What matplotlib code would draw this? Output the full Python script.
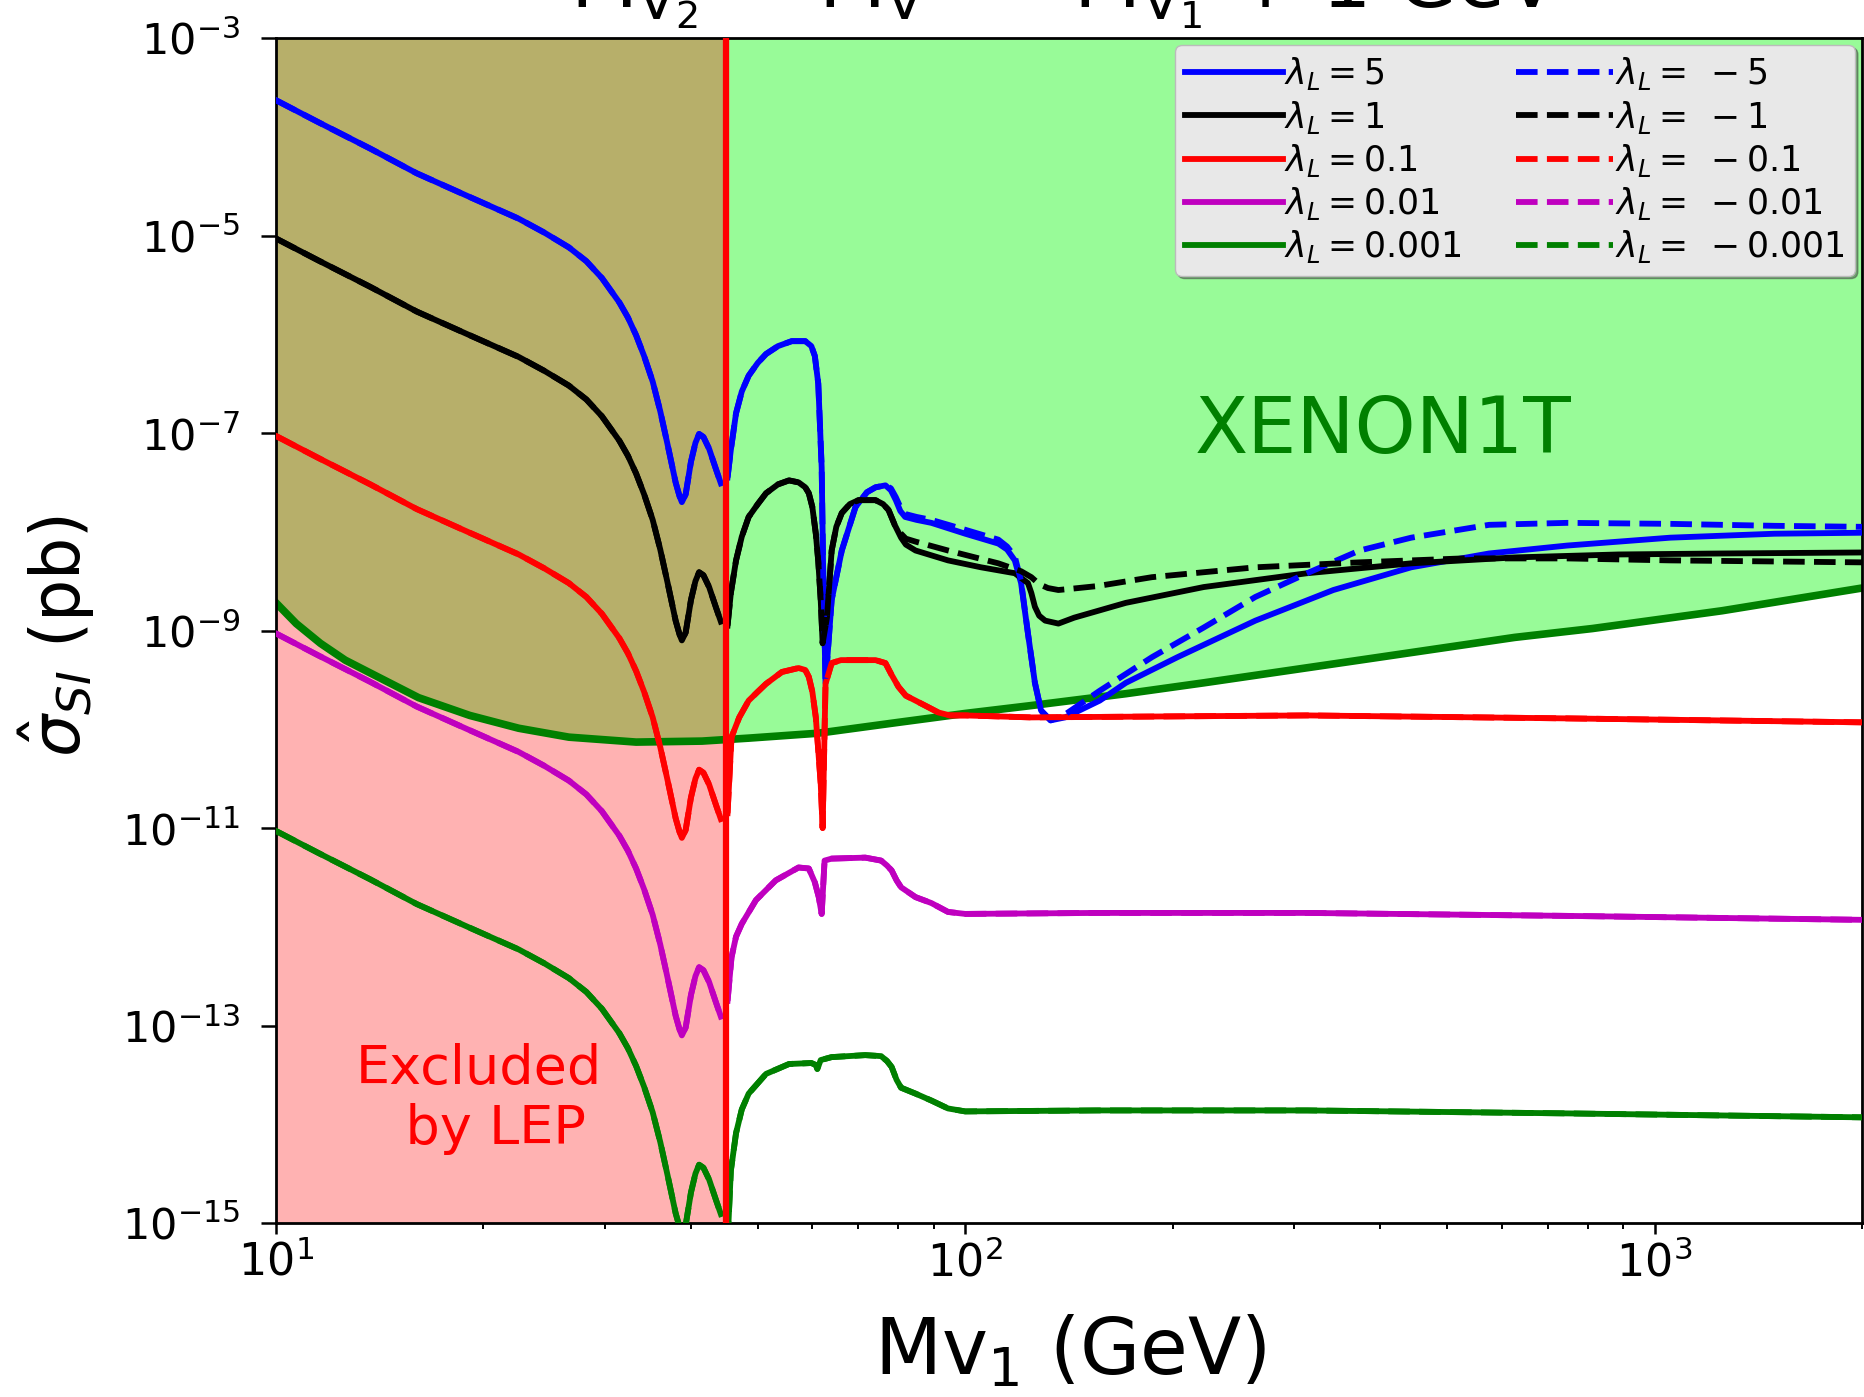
import numpy as np
import matplotlib
matplotlib.use("Agg")
import matplotlib.pyplot as plt
from matplotlib.ticker import NullLocator

# ---------------- data (log10 of sigma in pb, masses in GeV) ----------------
lep_limit = 45.0

mass_left = [10, 11.5, 13.7, 16.0, 19.1, 22.5, 24.5, 26.6, 28.2, 29.7,
             31.5, 32.4, 33.3, 34.2, 35.2, 36.1, 37.0, 38.0, 38.5, 38.8,
             39.3, 40.0, 40.6, 41.1, 41.7, 42.5, 43.5, 44.2]
logsig_left_p5 = [-3.63, -3.85, -4.12, -4.37, -4.61, -4.83, -4.97, -5.12, -5.26, -5.43,
                  -5.68, -5.83, -6.01, -6.22, -6.48, -6.78, -7.12, -7.50, -7.64, -7.70,
                  -7.62, -7.29, -7.10, -7.01, -7.04, -7.16, -7.37, -7.51]
logsig_left_p1 = [-5.03, -5.25, -5.52, -5.77, -6.01, -6.23, -6.37, -6.52, -6.66, -6.83,
                  -7.08, -7.23, -7.41, -7.62, -7.88, -8.18, -8.52, -8.90, -9.04, -9.10,
                  -9.02, -8.69, -8.50, -8.41, -8.44, -8.56, -8.77, -8.91]
logsig_left_p01 = [-7.03, -7.25, -7.52, -7.77, -8.01, -8.23, -8.37, -8.52, -8.66, -8.83,
                   -9.08, -9.23, -9.41, -9.62, -9.88, -10.18, -10.52, -10.90, -11.04, -11.10,
                   -11.02, -10.69, -10.50, -10.41, -10.44, -10.56, -10.77, -10.91]
logsig_left_p001 = [-9.03, -9.25, -9.52, -9.77, -10.01, -10.23, -10.37, -10.52, -10.66, -10.83,
                    -11.08, -11.23, -11.41, -11.62, -11.88, -12.18, -12.52, -12.90, -13.04, -13.10,
                    -13.02, -12.69, -12.50, -12.41, -12.44, -12.56, -12.77, -12.91]
logsig_left_p0001 = [-11.03, -11.25, -11.52, -11.77, -12.01, -12.23, -12.37, -12.52, -12.66, -12.83,
                     -13.08, -13.23, -13.41, -13.62, -13.88, -14.18, -14.52, -14.90, -15.04, -15.10,
                     -15.02, -14.69, -14.50, -14.41, -14.44, -14.56, -14.77, -14.91]

# lambda = 5 (solid); the lambda = -5 curve shares the first 22 points
mass_right_p5 = [45.2, 45.7, 46.5, 47.4, 48.5, 50.0, 51.4, 53.5, 56.0, 58.6,
                 59.8, 60.5, 61.2, 61.9, 62.2, 62.7, 64.0, 66.2, 69.3, 72.0,
                 74.1, 76.6, 78.0, 79.3, 80.5, 81.8, 85.0, 89.3, 100, 111.7,
                 115.0, 118.0, 120.5, 123.3, 126.2, 128.8, 133.0, 139.6, 156.7, 171.0,
                 203.2, 263.6, 342.0, 443.6, 575.4, 746.4, 1054, 1493, 2000]
logsig_right_p5 = [-7.45, -7.17, -6.80, -6.58, -6.42, -6.29, -6.20, -6.12, -6.07, -6.07,
                   -6.12, -6.22, -6.50, -7.35, -8.36, -9.53, -8.69, -8.19, -7.75, -7.60,
                   -7.55, -7.53, -7.58, -7.68, -7.79, -7.85, -7.88, -7.91, -8.02, -8.12,
                   -8.18, -8.29, -8.52, -9.03, -9.53, -9.81, -9.91, -9.88, -9.71, -9.53,
                   -9.27, -8.90, -8.59, -8.36, -8.22, -8.14, -8.06, -8.02, -8.01]

mass_right_m5 = mass_right_p5[:22] + [78.0, 79.3, 80.5, 81.8, 85.0, 89.3, 100, 111.7, 115.0, 118.0,
                                      120.5, 123.3, 126.2, 128.8, 133.0, 139.6, 156.7, 186.6, 221.8, 263.6,
                                      313.3, 373.3, 443.6, 575.4, 746.4, 1054, 1493, 2000]
logsig_right_m5 = logsig_right_p5[:22] + [-7.56, -7.65, -7.75, -7.82, -7.85, -7.88, -7.98, -8.08, -8.15, -8.25,
                                          -8.50, -9.03, -9.53, -9.81, -9.91, -9.85, -9.61, -9.27, -8.97, -8.66,
                                          -8.42, -8.19, -8.06, -7.93, -7.91, -7.92, -7.94, -7.95]

# lambda = 1 (solid); the lambda = -1 curve shares the first 27 points
mass_right_p1 = [45.2, 45.7, 46.5, 47.4, 48.5, 50.0, 51.4, 53.5, 55.5, 57.3,
                 58.6, 59.3, 60.0, 60.7, 61.2, 61.7, 62.1, 63.0, 64.0, 65.0,
                 66.2, 68.0, 70.0, 74.1, 76.0, 77.4, 79.0, 80.7, 82.0, 84.7,
                 94.4, 105.4, 118.0, 123.3, 124.7, 126.2, 128.0, 130.6, 136.5, 143.9,
                 171.0, 221.8, 313.3, 443.6, 626.6, 887.2, 1253, 2000]
logsig_right_p1 = [-8.95, -8.62, -8.29, -8.05, -7.85, -7.72, -7.61, -7.52, -7.48, -7.50,
                   -7.55, -7.61, -7.75, -8.02, -8.30, -8.69, -9.13, -8.87, -8.19, -7.95,
                   -7.81, -7.72, -7.68, -7.68, -7.72, -7.78, -7.93, -8.06, -8.13, -8.19,
                   -8.29, -8.36, -8.42, -8.52, -8.62, -8.76, -8.85, -8.90, -8.93, -8.87,
                   -8.72, -8.56, -8.42, -8.32, -8.26, -8.23, -8.22, -8.21]

mass_right_m1 = mass_right_p1[:27] + [80.7, 82.0, 84.7, 94.4, 111.7, 120.5, 124.7, 128.0, 131.8, 136.5,
                                      141.3, 155.6, 186.6, 263.6, 373.3, 527.2, 746.4, 1054, 2000]
logsig_right_m1 = logsig_right_p1[:27] + [-8.02, -8.07, -8.10, -8.19, -8.32, -8.40, -8.46, -8.53, -8.57, -8.59,
                                          -8.58, -8.55, -8.46, -8.36, -8.31, -8.27, -8.27, -8.29, -8.31]

mass_right_p01 = [45.2, 45.8, 47.0, 48.5, 50.0, 51.4, 54.2, 57.3, 58.6, 59.3,
                  60.0, 60.7, 61.7, 62.1, 62.7, 64.0, 66.0, 74.1, 76.6, 78.2,
                  80.0, 82.0, 84.7, 88.0, 91.4, 95.0, 100, 124.7, 313.3, 746.4,
                  2000]
logsig_right_p01 = [-10.85, -10.08, -9.88, -9.71, -9.62, -9.54, -9.42, -9.38, -9.40, -9.47,
                    -9.62, -9.88, -10.55, -11.0, -9.54, -9.33, -9.30, -9.30, -9.33, -9.45,
                    -9.57, -9.66, -9.71, -9.77, -9.83, -9.86, -9.86, -9.88, -9.86, -9.89,
                    -9.93]

mass_right_p001 = [45.2, 45.8, 46.5, 47.4, 49.7, 53.1, 57.3, 59.3, 60.5, 61.3,
                   61.9, 62.5, 64.0, 71.6, 75.5, 77.0, 78.2, 79.5, 80.7, 84.7,
                   89.3, 94.4, 100, 155.6, 313.3, 746.4, 2000]
logsig_right_p001 = [-12.75, -12.31, -12.10, -11.97, -11.73, -11.53, -11.40, -11.41, -11.55, -11.70,
                     -11.87, -11.33, -11.31, -11.30, -11.33, -11.38, -11.43, -11.53, -11.60, -11.70,
                     -11.76, -11.85, -11.87, -11.86, -11.86, -11.89, -11.93]

mass_right_p0001 = [45.2, 45.7, 46.5, 47.4, 48.5, 51.4, 55.5, 59.8, 60.7, 61.0,
                    61.7, 64.0, 71.6, 75.5, 77.0, 78.2, 79.5, 80.7, 84.7, 89.3,
                    94.4, 100, 155.6, 313.3, 746.4, 2000]
logsig_right_p0001 = [-15.2, -14.47, -14.09, -13.85, -13.69, -13.49, -13.39, -13.38, -13.40, -13.44,
                      -13.35, -13.32, -13.30, -13.31, -13.36, -13.42, -13.55, -13.63, -13.69, -13.76,
                      -13.84, -13.87, -13.86, -13.86, -13.89, -13.93]

mass_xenon = [10, 10.7, 11.6, 12.6, 13.7, 16.1, 19.1, 22.5, 26.6, 33.3, 41.5,
              48.5, 61.2, 80.0, 100, 124.7, 171.0, 221.8, 373.3, 626.6, 812.8,
              1253, 2000]
logsig_xenon = [-8.72, -8.93, -9.13, -9.30, -9.43, -9.68, -9.86, -9.99, -10.08, -10.13, -10.12,
                -10.09, -10.04, -9.93, -9.84, -9.76, -9.64, -9.53, -9.30, -9.07, -8.98,
                -8.80, -8.57]

y_ticks = [1e-3, 1e-5, 1e-7, 1e-9, 1e-11, 1e-13, 1e-15]

# ---------------- figure ----------------
W_PX, H_PX = 1865, 1397
fig = plt.figure(figsize=(W_PX / 100, H_PX / 100), dpi=100)
ax = fig.add_axes([276 / W_PX, 1 - 1223 / H_PX, (1862 - 276) / W_PX, (1223 - 38) / H_PX])
ax.set_xscale("log")
ax.set_yscale("log")
ax.set_xlim(10, 2000)
ax.set_ylim(1e-15, 1e-3)

def p(v):
    return 10 ** np.asarray(v, dtype=float)

ax.fill_between(mass_xenon, p(logsig_xenon), 1e-3, color="palegreen", lw=0, zorder=0)
ax.axvspan(10, lep_limit, color="red", alpha=0.3, lw=0, zorder=0.5)
ax.plot(mass_xenon, p(logsig_xenon), color="green", lw=5.5, zorder=2)

LW = 4.2
series = [
    ("b", r"$\lambda_L = 5$", logsig_left_p5, mass_right_p5, logsig_right_p5,
     r"$\lambda_L = \;-5$", mass_right_m5, logsig_right_m5),
    ("k", r"$\lambda_L = 1$", logsig_left_p1, mass_right_p1, logsig_right_p1,
     r"$\lambda_L = \;-1$", mass_right_m1, logsig_right_m1),
    ("r", r"$\lambda_L = 0.1$", logsig_left_p01, mass_right_p01, logsig_right_p01,
     r"$\lambda_L = \;-0.1$", mass_right_p01, logsig_right_p01),
    ("m", r"$\lambda_L = 0.01$", logsig_left_p001, mass_right_p001, logsig_right_p001,
     r"$\lambda_L = \;-0.01$", mass_right_p001, logsig_right_p001),
    ("g", r"$\lambda_L = 0.001$", logsig_left_p0001, mass_right_p0001, logsig_right_p0001,
     r"$\lambda_L = \;-0.001$", mass_right_p0001, logsig_right_p0001),
]

solid_handles, dashed_handles = [], []
solid_labels, dashed_labels = [], []
for c, lab, yl, xr, yr, labm, xrm, yrm in series:
    ax.plot(mass_left, p(yl), color=c, lw=LW, zorder=3)
    h, = ax.plot(xr, p(yr), color=c, lw=LW, zorder=3)
    solid_handles.append(h)
    solid_labels.append(lab)
for c, lab, yl, xr, yr, labm, xrm, yrm in series:
    ax.plot(mass_left, p(yl), color=c, lw=LW, ls="--", zorder=3)
    h, = ax.plot(xrm, p(yrm), color=c, lw=LW, ls="--", zorder=3)
    dashed_handles.append(h)
    dashed_labels.append(labm)

ax.axvline(lep_limit, color="red", lw=4.5, zorder=5)

# texts
ax.text(215, 10 ** -7.20, "XENON1T", color="green", fontsize=56, ha="left", va="baseline", zorder=6)
ax.text(19.7, 10 ** -13.74, "Excluded\n  by LEP", color="red", fontsize=39,
        ha="center", va="center", multialignment="center", zorder=6)

leg = ax.legend(solid_handles + dashed_handles, solid_labels + dashed_labels,
                loc="upper right", ncol=2, fontsize=25, frameon=True, fancybox=True,
                shadow=True, facecolor="#e8e8e8", edgecolor="#bbbbbb", framealpha=1,
                handlelength=2.8, handletextpad=0.05, columnspacing=1.55,
                labelspacing=0.18, borderpad=0.3, borderaxespad=0.2)
leg.set_zorder(10)

# axes styling
for s in ax.spines.values():
    s.set_linewidth(2)
ax.set_yticks(y_ticks)
ax.yaxis.set_minor_locator(NullLocator())
ax.tick_params(axis="y", which="major", length=11, width=1.8, labelsize=31, pad=15)
ax.tick_params(axis="x", which="major", length=8, width=1.8, labelsize=32, pad=5)
ax.tick_params(axis="x", which="minor", length=4.5, width=1.4)

fig.text(1070 / W_PX, 1 - 1374 / H_PX, r"Mv$_1$ (GeV)", fontsize=56, ha="center", va="baseline")
fig.text(57 / W_PX, 1 - 636 / H_PX, r"$\hat{\sigma}_{SI}$ (pb)", fontsize=48,
         rotation=90, ha="center", va="center")
fig.text(1064 / W_PX, 1 - 7 / H_PX,
         r"M$_{\mathrm{V}_2}$ = M$_{\mathrm{V}^{\pm}}$ = M$_{\mathrm{V}_1}$ + 1 GeV",
         fontsize=56, ha="center", va="baseline")

fig.savefig("out.png", dpi=100)
